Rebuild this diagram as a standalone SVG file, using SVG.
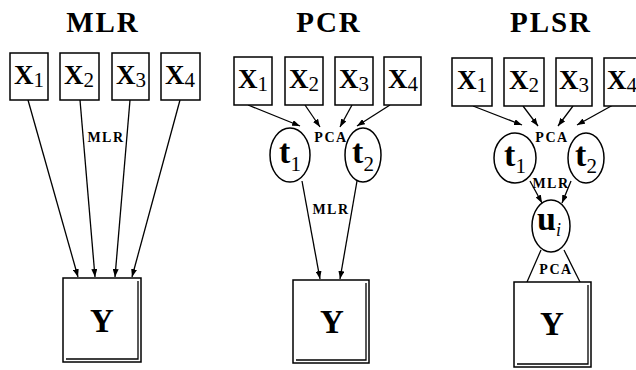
<svg xmlns="http://www.w3.org/2000/svg" width="636" height="370" viewBox="0 0 636 370">
<defs>
<marker id="ah" markerWidth="8" markerHeight="6" refX="8" refY="3" orient="auto" markerUnits="userSpaceOnUse">
<path d="M0,0 L8,3 L0,6 z" fill="#000"/>
</marker>
<style>
.title{font-family:"Liberation Serif","Times New Roman",serif;font-size:29px;font-weight:bold;letter-spacing:2px;text-anchor:middle;fill:#000}
.box{fill:#fff;stroke:#000;stroke-width:1.5}
.ell{fill:#fff;stroke:#000;stroke-width:1.5}
.x{font-family:"Liberation Serif","Times New Roman",serif;font-size:27px;font-weight:bold;text-anchor:middle;fill:#000}
.sub{font-family:"Liberation Serif","Times New Roman",serif;font-weight:normal;font-size:21px}
.y{font-family:"Liberation Serif","Times New Roman",serif;font-size:33px;font-weight:bold;text-anchor:middle;fill:#000}
.t{font-family:"Liberation Serif","Times New Roman",serif;font-size:34px;font-weight:bold;text-anchor:middle;fill:#000}
.lbl{font-family:"Liberation Serif","Times New Roman",serif;font-size:14px;font-weight:bold;letter-spacing:1.5px;text-anchor:middle;fill:#000}
.c{stroke:#000;stroke-width:1.3;fill:none}
.a{marker-end:url(#ah)}
</style>
</defs>
<rect width="636" height="370" fill="#fff"/>

<text class="title" x="103" y="32">MLR</text>
<text class="title" x="329" y="32">PCR</text>
<text class="title" x="551" y="32">PLSR</text>

<g id="connectors">
<line class="c a" x1="28" y1="100" x2="78" y2="277"/>
<line class="c a" x1="80" y1="100" x2="95" y2="277"/>
<line class="c a" x1="130" y1="100" x2="115" y2="277"/>
<line class="c a" x1="180" y1="100" x2="132" y2="277"/>
<text class="lbl" x="106" y="142">MLR</text>

<line class="c a" x1="248" y1="105" x2="300" y2="126"/>
<line class="c a" x1="305" y1="105" x2="320" y2="127"/>
<line class="c a" x1="352" y1="105" x2="340" y2="127"/>
<line class="c a" x1="390" y1="105" x2="357" y2="126"/>
<text class="lbl" x="331" y="142">PCA</text>
<line class="c a" x1="302" y1="181" x2="320" y2="279"/>
<line class="c a" x1="357" y1="181" x2="340" y2="279"/>
<text class="lbl" x="331" y="214">MLR</text>

<line class="c a" x1="473" y1="106" x2="522" y2="125"/>
<line class="c a" x1="523" y1="106" x2="538" y2="126"/>
<line class="c a" x1="573" y1="106" x2="558" y2="126"/>
<line class="c a" x1="613" y1="105" x2="577" y2="125"/>
<text class="lbl" x="552" y="142">PCA</text>
<line class="c a" x1="530" y1="181" x2="542" y2="203"/>
<line class="c a" x1="571" y1="181" x2="562" y2="203"/>
<text class="lbl" x="551" y="188">MLR</text>
<line class="c" x1="541" y1="250" x2="527" y2="282"/>
<line class="c" x1="564" y1="250" x2="580" y2="282"/>
<text class="lbl" x="556" y="274">PCA</text>
</g>

<g id="mlr-x1"><rect class="box" x="10" y="53" width="38" height="47"/><text class="x" x="29" y="84">X<tspan class="sub" dy="3">1</tspan></text></g>
<g id="mlr-x2"><rect class="box" x="60" y="53" width="39" height="47"/><text class="x" x="79" y="84">X<tspan class="sub" dy="3">2</tspan></text></g>
<g id="mlr-x3"><rect class="box" x="112" y="53" width="37" height="47"/><text class="x" x="131" y="84">X<tspan class="sub" dy="3">3</tspan></text></g>
<g id="mlr-x4"><rect class="box" x="161" y="53" width="39" height="47"/><text class="x" x="180" y="84">X<tspan class="sub" dy="3">4</tspan></text></g>
<g id="mlr-y"><rect class="box" x="63" y="278" width="78" height="84"/><path class="c" d="M138,281 V359 H66" stroke-width="1"/><text class="y" x="102" y="332">Y</text></g>

<g id="pcr-x1"><rect class="box" x="234" y="57" width="38" height="48"/><text class="x" x="253" y="88">X<tspan class="sub" dy="3">1</tspan></text></g>
<g id="pcr-x2"><rect class="box" x="285" y="57" width="38" height="48"/><text class="x" x="304" y="88">X<tspan class="sub" dy="3">2</tspan></text></g>
<g id="pcr-x3"><rect class="box" x="335" y="57" width="38" height="48"/><text class="x" x="354" y="88">X<tspan class="sub" dy="3">3</tspan></text></g>
<g id="pcr-x4"><rect class="box" x="384" y="57" width="37" height="48"/><text class="x" x="403" y="88">X<tspan class="sub" dy="3">4</tspan></text></g>
<g id="pcr-t1"><ellipse class="ell" cx="290" cy="155" rx="20" ry="27"/><text class="t" x="290" y="163">t<tspan class="sub" dy="8">1</tspan></text></g>
<g id="pcr-t2"><ellipse class="ell" cx="363" cy="155" rx="18" ry="27"/><text class="t" x="363" y="163">t<tspan class="sub" dy="8">2</tspan></text></g>
<g id="pcr-y"><rect class="box" x="293" y="280" width="76" height="83"/><path class="c" d="M366,283 V360 H296" stroke-width="1"/><text class="y" x="332" y="333">Y</text></g>

<g id="plsr-x1"><rect class="box" x="452" y="58" width="40" height="48"/><text class="x" x="472" y="89">X<tspan class="sub" dy="3">1</tspan></text></g>
<g id="plsr-x2"><rect class="box" x="504" y="58" width="40" height="48"/><text class="x" x="524" y="89">X<tspan class="sub" dy="3">2</tspan></text></g>
<g id="plsr-x3"><rect class="box" x="556" y="58" width="36" height="48"/><text class="x" x="574" y="89">X<tspan class="sub" dy="3">3</tspan></text></g>
<g id="plsr-x4"><rect class="box" x="604" y="58" width="40" height="48"/><text class="x" x="622" y="89">X<tspan class="sub" dy="3">4</tspan></text></g>
<g id="plsr-t1"><ellipse class="ell" cx="515" cy="158" rx="21" ry="25"/><text class="t" x="515" y="166">t<tspan class="sub" dy="7">1</tspan></text></g>
<g id="plsr-t2"><ellipse class="ell" cx="586" cy="158" rx="18" ry="25"/><text class="t" x="586" y="166">t<tspan class="sub" dy="7">2</tspan></text></g>
<g id="plsr-u"><ellipse class="ell" cx="551" cy="226" rx="19" ry="26"/><text class="t" x="549" y="230">u<tspan font-size="18" font-weight="normal" font-style="italic" dy="6">i</tspan></text></g>
<g id="plsr-y"><rect class="box" x="514" y="282" width="77" height="85"/><path class="c" d="M588,285 V364 H517" stroke-width="1"/><text class="y" x="552" y="335">Y</text></g>
</svg>
